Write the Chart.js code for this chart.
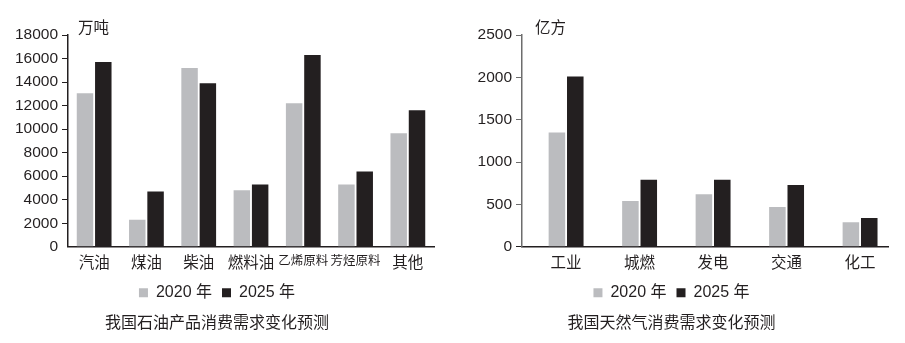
<!DOCTYPE html>
<html>
<head>
<meta charset="utf-8">
<script src="https://cdn.jsdelivr.net/npm/chart.js@4"></script>
<style>
  html, body { margin: 0; padding: 0; background: #fff; }
  body { width: 905px; height: 343px; position: relative; overflow: hidden; }
  .box { position: absolute; top: 0; height: 343px; }
  #oilBox { left: 0; width: 448px; }
  #gasBox { left: 455px; width: 450px; }
</style>
</head>
<body>
<div class="box" id="oilBox"><canvas id="oil" width="448" height="343"></canvas></div>
<div class="box" id="gasBox"><canvas id="gas" width="450" height="343"></canvas></div>
<script>
// 石油产品（万吨）
const oilCategories = ['汽油', '煤油', '柴油', '燃料油', '乙烯原料', '芳烃原料', '其他'];
const oil2020 = [13050, 2300, 15200, 4800, 12200, 5300, 9650];
const oil2025 = [15700, 4700, 13900, 5300, 16300, 6400, 11600];
const oilTicks = [0, 2000, 4000, 6000, 8000, 10000, 12000, 14000, 16000, 18000];

// 天然气（亿方）
const gasCategories = ['工业', '城燃', '发电', '交通', '化工'];
const gas2020 = [1350, 540, 620, 470, 290];
const gas2025 = [2010, 790, 790, 730, 340];
const gasTicks = [0, 500, 1000, 1500, 2000, 2500];

const seriesNames = ['2020 年', '2025 年'];
const GREY = '#bbbcbf';
const DARK = '#231f20';
const FONT = '"Liberation Sans", Arial, "Noto Sans CJK SC", sans-serif';
const CJK = '"Noto Sans CJK SC", "Liberation Sans", sans-serif';

// unit text in the top-left corner of the plot
const unitLabel = {
  id: 'unitLabel',
  afterDraw(chart, args, opts) {
    const { ctx, chartArea } = chart;
    ctx.save();
    ctx.font = '15.5px ' + CJK;
    ctx.fillStyle = DARK;
    ctx.textBaseline = 'middle';
    ctx.fillText(opts.text, chartArea.left + opts.dx, 27);
    ctx.restore();
  }
};

function makeChart(id, cfg) {
  return new Chart(document.getElementById(id), {
    type: 'bar',
    data: {
      labels: cfg.labels,
      datasets: [
        { label: seriesNames[0], data: cfg.a, backgroundColor: GREY, barPercentage: 0.9, categoryPercentage: cfg.catPct },
        { label: seriesNames[1], data: cfg.b, backgroundColor: DARK, barPercentage: 0.9, categoryPercentage: cfg.catPct }
      ]
    },
    plugins: [unitLabel],
    options: {
      responsive: false,
      animation: false,
      layout: { padding: { top: 35, right: cfg.padRight, left: 0, bottom: 0 } },
      plugins: {
        unitLabel: { text: cfg.unit, dx: cfg.unitDx },
        tooltip: { enabled: false },
        legend: {
          position: 'bottom',
          labels: {
            boxWidth: 9, boxHeight: 9, padding: 10,
            color: DARK,
            font: { family: FONT, size: 16 }
          }
        },
        title: {
          display: true,
          position: 'bottom',
          text: cfg.title,
          color: DARK,
          font: { family: CJK, size: 16, weight: 'normal' },
          padding: { top: 2, bottom: 11 }
        }
      },
      scales: {
        x: Object.assign({
          grid: { display: false, drawTicks: false, tickLength: 0 },
          border: { display: true, color: DARK, width: 1.5 },
          ticks: {
            color: DARK, padding: 6, maxRotation: 0, autoSkip: false,
            // four-character names are set tighter so they fit their slot
            font: (c) => ({ family: CJK, size: String(c.tick && c.tick.label).length > 3 ? 12.5 : 15.5 })
          },
          afterFit(scale) { scale.height = 28; }
        }, cfg.xExtra || {}),
        y: {
          min: 0,
          max: cfg.ticks[cfg.ticks.length - 1],
          afterBuildTicks(scale) { scale.ticks = cfg.ticks.map(v => ({ value: v })); },
          grid: {
            drawOnChartArea: false, drawTicks: true, tickLength: 6, lineWidth: 1,
            color: (c) => (c.tick && c.tick.value === 0) ? cfg.zeroTick : cfg.axisColor
          },
          border: { display: true, color: cfg.axisColor, width: 1.5 },
          ticks: { color: DARK, padding: 4, font: { family: FONT, size: 15.5 }, callback: (v) => String(v) },
          afterFit(scale) { scale.width = cfg.yWidth; }
        }
      }
    }
  });
}

makeChart('oil', {
  labels: oilCategories, a: oil2020, b: oil2025, ticks: oilTicks,
  catPct: 0.7, padRight: 14, yWidth: 68, axisColor: DARK, zeroTick: 'rgba(0,0,0,0)',
  unit: '万吨', unitDx: 10, title: '我国石油产品消费需求变化预测'
});

// gas categories sit on a linear index axis so the first group can start
// a little further from the y axis than a plain category axis allows
makeChart('gas', {
  labels: gasCategories,
  a: gas2020.map((v, i) => ({ x: i, y: v })),
  b: gas2025.map((v, i) => ({ x: i, y: v })),
  ticks: gasTicks,
  catPct: 0.5, padRight: 17, yWidth: 67, axisColor: '#6d6d6d', zeroTick: DARK,
  unit: '亿方', unitDx: 13, title: '我国天然气消费需求变化预测',
  xExtra: {
    type: 'linear',
    offset: false,
    min: -0.6,
    max: 4.38,
    afterBuildTicks(scale) { scale.ticks = gasCategories.map((_, i) => ({ value: i })); },
    ticks: {
      color: DARK, padding: 6, maxRotation: 0, autoSkip: false,
      font: { family: CJK, size: 15.5 },
      callback: (v) => gasCategories[v]
    }
  }
});
</script>
</body>
</html>
